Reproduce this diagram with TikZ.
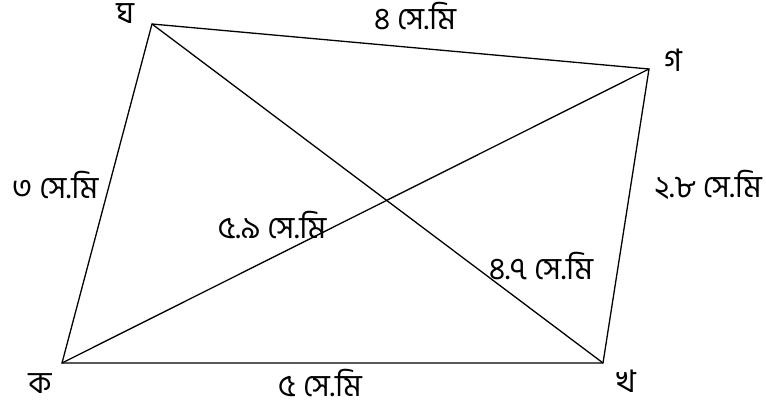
\documentclass[tikz,border=0pt]{standalone}
\usepackage{fontspec}
\newfontfamily\bnfont[Script=Bengali]{Hind Siliguri}
\begin{document}
\begin{tikzpicture}[x=1pt,y=-1pt,
  edge/.style={line width=1.3pt,black},
  lbl/.style={font=\bnfont\fontsize{31}{36}\selectfont,inner sep=0pt,anchor=center}]
\useasboundingbox (0,0) rectangle (766,412);
\coordinate (K) at (62,363);
\coordinate (Kh) at (603,363);
\coordinate (G) at (649,69);
\coordinate (Gh) at (152,24);
\draw[edge] (K) -- (Kh) -- (G) -- (Gh) -- cycle;
\draw[edge] (K) -- (G);
\draw[edge] (Kh) -- (Gh);
\node[lbl] (lK) at (40,384) {ক};
\node[lbl] (lKh) at (626,381) {খ};
\node[lbl] (lG) at (673,60) {গ};
\node[lbl] (lGh) at (125,14) {ঘ};
\node[lbl] (s1) at (415,16) {৪ সে.মি};
\node[lbl] (s2) at (55,185) {৩ সে.মি};
\node[lbl] (s3) at (708,185) {২.৮ সে.মি};
\node[lbl] (s4) at (272,225) {৫.৯ সে.মি};
\node[lbl] (s5) at (541,266) {৪.৭ সে.মি};
\node[lbl] (s6) at (320,383) {৫ সে.মি};
\end{tikzpicture}
\end{document}
